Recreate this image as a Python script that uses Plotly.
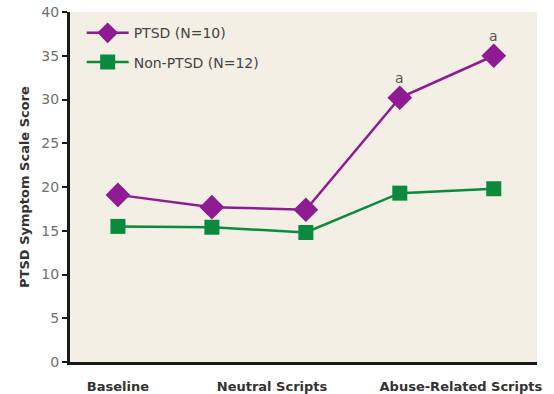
import plotly.graph_objects as go

# Five measurement points across the session
positions = [1, 2, 3, 4, 5]
ptsd_scores = [19.1, 17.7, 17.4, 30.2, 35.0]
non_ptsd_scores = [15.5, 15.4, 14.8, 19.3, 19.8]

# Condition labels placed under the groups of points
condition_labels = ["Baseline", "Neutral Scripts", "Abuse-Related Scripts"]
condition_positions = [1, 2.64, 4.65]

# Points flagged as significantly different
sig_positions = [4, 5]
sig_scores = [ptsd_scores[3], ptsd_scores[4]]

purple = "#8E1B92"
green = "#0B8A3E"
FONT = "DejaVu Sans"

fig = go.Figure()
fig.add_trace(go.Scatter(
    x=positions, y=ptsd_scores, mode="lines+markers", name="PTSD (N=10)",
    legendgroup="a",
    line=dict(color=purple, width=2.5),
    marker=dict(symbol="diamond", size=19, color=purple),
))
fig.add_trace(go.Scatter(
    x=positions, y=non_ptsd_scores, mode="lines+markers", name="Non-PTSD (N=12)",
    legendgroup="b",
    line=dict(color=green, width=2.5),
    marker=dict(symbol="square", size=15, color=green),
))

for xv, yv in zip(sig_positions, sig_scores):
    fig.add_annotation(x=xv, y=yv, text="a", showarrow=False, yshift=20,
                       font=dict(family=FONT, size=14, color="#555555"))

fig.update_layout(
    width=554, height=394,
    margin=dict(l=70, r=17, t=12, b=32),
    paper_bgcolor="white",
    plot_bgcolor="#F3EFE5",
    font=dict(family=FONT, color="#555555"),
    showlegend=True,
    legend=dict(x=0.025, y=0.985, xanchor="left", yanchor="top",
                bgcolor="rgba(0,0,0,0)", font=dict(size=14, color="#444444"),
                itemwidth=42,
                traceorder="grouped", tracegroupgap=8),
    xaxis=dict(
        range=[0.49, 5.46], showgrid=False, zeroline=False, automargin=False,
        showline=True, linecolor="#1a1a1a", linewidth=3,
        tickvals=condition_positions, ticktext=condition_labels,
        ticks="", ticklabelstandoff=10,
        tickfont=dict(family=FONT, size=13, color="#333333", weight="bold"),
    ),
    yaxis=dict(
        range=[0, 40], dtick=5, showgrid=False, zeroline=False, automargin=False,
        showline=True, linecolor="#1a1a1a", linewidth=3,
        ticks="outside", ticklen=5, tickwidth=1.5, tickcolor="#1a1a1a",
        tickfont=dict(family=FONT, size=14, color="#707070"),
        title=dict(text="PTSD Symptom Scale Score", standoff=9,
                   font=dict(family=FONT, size=13, color="#333333", weight="bold")),
    ),
)

fig.write_html("out.html")
